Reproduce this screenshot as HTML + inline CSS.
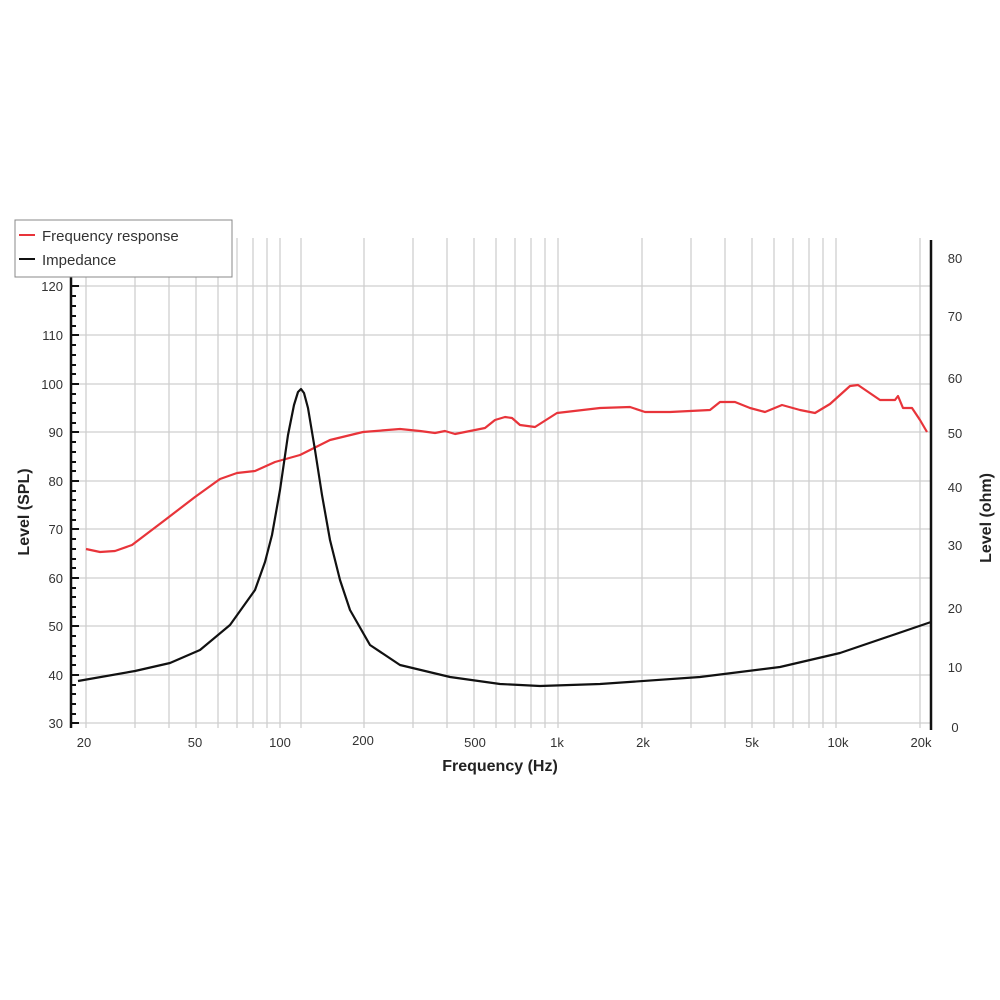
<!DOCTYPE html>
<html><head><style>
html,body{margin:0;padding:0;background:#fff;}
svg{display:block;font-family:"Liberation Sans",sans-serif;}
</style></head><body>
<svg width="1000" height="1000" viewBox="0 0 1000 1000">
<g stroke="#cfcfcf" stroke-width="1.3">
<line x1="86" y1="238" x2="86" y2="728"/><line x1="135" y1="238" x2="135" y2="728"/><line x1="169" y1="238" x2="169" y2="728"/><line x1="196" y1="238" x2="196" y2="728"/><line x1="218" y1="238" x2="218" y2="728"/><line x1="237" y1="238" x2="237" y2="728"/><line x1="253" y1="238" x2="253" y2="728"/><line x1="267" y1="238" x2="267" y2="728"/><line x1="280" y1="238" x2="280" y2="728"/><line x1="301" y1="238" x2="301" y2="728"/>
<line x1="364" y1="238" x2="364" y2="728"/><line x1="413" y1="238" x2="413" y2="728"/><line x1="447" y1="238" x2="447" y2="728"/><line x1="474" y1="238" x2="474" y2="728"/><line x1="496" y1="238" x2="496" y2="728"/><line x1="515" y1="238" x2="515" y2="728"/><line x1="531" y1="238" x2="531" y2="728"/><line x1="545" y1="238" x2="545" y2="728"/><line x1="558" y1="238" x2="558" y2="728"/>
<line x1="642" y1="238" x2="642" y2="728"/><line x1="691" y1="238" x2="691" y2="728"/><line x1="725" y1="238" x2="725" y2="728"/><line x1="752" y1="238" x2="752" y2="728"/><line x1="774" y1="238" x2="774" y2="728"/><line x1="793" y1="238" x2="793" y2="728"/><line x1="809" y1="238" x2="809" y2="728"/><line x1="823" y1="238" x2="823" y2="728"/><line x1="836" y1="238" x2="836" y2="728"/><line x1="920" y1="238" x2="920" y2="728"/>
<line x1="71" y1="286" x2="931" y2="286"/><line x1="71" y1="335" x2="931" y2="335"/><line x1="71" y1="384" x2="931" y2="384"/><line x1="71" y1="432" x2="931" y2="432"/><line x1="71" y1="481" x2="931" y2="481"/><line x1="71" y1="529" x2="931" y2="529"/><line x1="71" y1="578" x2="931" y2="578"/><line x1="71" y1="626" x2="931" y2="626"/><line x1="71" y1="675" x2="931" y2="675"/><line x1="71" y1="723" x2="931" y2="723"/>
</g>
<line x1="71" y1="276" x2="71" y2="728" stroke="#111" stroke-width="2.5"/>
<path d="M71 286h8M71 296h5M71 306h5M71 316h5M71 326h5M71 335h8M71 345h5M71 355h5M71 365h5M71 374h5M71 384h8M71 394h5M71 403h5M71 413h5M71 423h5M71 432h8M71 442h5M71 452h5M71 462h5M71 471h5M71 481h8M71 491h5M71 500h5M71 510h5M71 520h5M71 529h8M71 539h5M71 549h5M71 559h5M71 568h5M71 578h8M71 588h5M71 597h5M71 607h5M71 617h5M71 626h8M71 636h5M71 646h5M71 656h5M71 665h5M71 675h8M71 685h5M71 694h5M71 704h5M71 714h5M71 723h8" stroke="#111" stroke-width="2"/>
<line x1="931" y1="240" x2="931" y2="730" stroke="#111" stroke-width="2.5"/>
<g font-size="13" fill="#333" text-anchor="end">
<text x="63" y="291">120</text><text x="63" y="340">110</text><text x="63" y="389">100</text><text x="63" y="437">90</text><text x="63" y="486">80</text><text x="63" y="534">70</text><text x="63" y="583">60</text><text x="63" y="631">50</text><text x="63" y="680">40</text><text x="63" y="728">30</text>
</g>
<g font-size="13" fill="#333" text-anchor="middle">
<text x="955" y="263">80</text><text x="955" y="321">70</text><text x="955" y="383">60</text><text x="955" y="438">50</text><text x="955" y="492">40</text><text x="955" y="550">30</text><text x="955" y="613">20</text><text x="955" y="672">10</text><text x="955" y="732">0</text>
<text x="84" y="747">20</text><text x="195" y="747">50</text><text x="280" y="747">100</text><text x="363" y="745">200</text><text x="475" y="747">500</text><text x="557" y="747">1k</text><text x="643" y="747">2k</text><text x="752" y="747">5k</text><text x="838" y="747">10k</text><text x="921" y="747">20k</text>
</g>
<text x="500" y="771" font-size="16" font-weight="bold" fill="#222" text-anchor="middle">Frequency (Hz)</text>
<text transform="translate(29,512) rotate(-90)" font-size="16" font-weight="bold" fill="#222" text-anchor="middle">Level (SPL)</text>
<text transform="translate(991,518) rotate(-90)" font-size="16" font-weight="bold" fill="#222" text-anchor="middle">Level (ohm)</text>
<polyline fill="none" stroke="#e8343a" stroke-width="2.2" stroke-linejoin="round" points="86,549 100,552 115,551 132,545 165,520 195,497 220,479 237,473 255,471 275,462 300,455 330,440 363,432 400,429 420,431 435,433 445,431 455,434 475,430 485,428 495,420 505,417 512,418 520,425 535,427 557,413 600,408 630,407 645,412 670,412 710,410 720,402 735,402 750,408 765,412 782,405 800,410 815,413 830,404 850,386 858,385 880,400 895,400 898,396 903,408 912,408 920,420 927,432"/>
<polyline fill="none" stroke="#111" stroke-width="2.2" stroke-linejoin="round" points="78,681 135,671 170,663 200,650 230,625 255,590 265,562 272,535 280,490 288,435 294,405 298,392 301,389 304,393 308,408 315,450 322,495 330,540 340,580 350,610 370,645 400,665 450,677 500,684 540,686 600,684 700,677 780,667 840,653 890,636 931,622"/>
<rect x="15" y="220" width="217" height="57" fill="#fff" stroke="#888" stroke-width="1"/>
<line x1="19" y1="235" x2="35" y2="235" stroke="#e8343a" stroke-width="2"/>
<line x1="19" y1="259" x2="35" y2="259" stroke="#111" stroke-width="2"/>
<text x="42" y="241" font-size="15" fill="#333">Frequency response</text>
<text x="42" y="265" font-size="15" fill="#333">Impedance</text>
</svg>
</body></html>
